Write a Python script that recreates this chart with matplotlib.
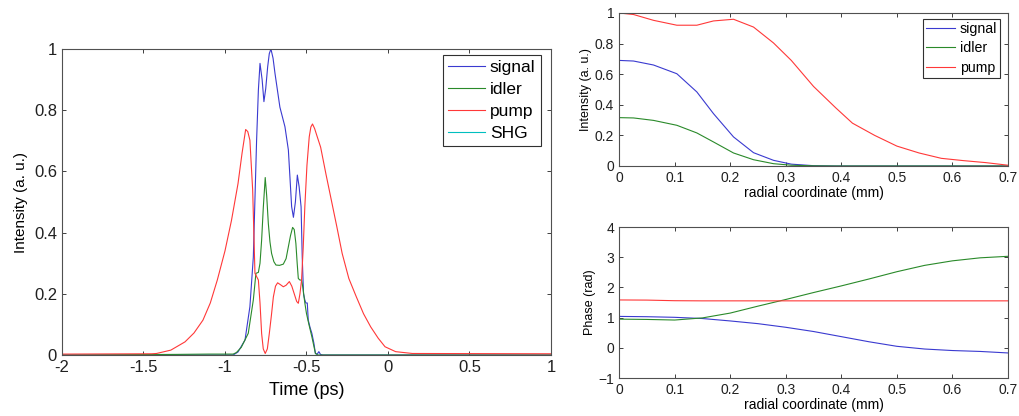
import numpy as np
import matplotlib
matplotlib.use("Agg")
import matplotlib.pyplot as plt

plt.rcParams["font.family"] = ["Liberation Sans", "DejaVu Sans"]

# ---------------- left panel: temporal profiles ----------------
t_signal = [-2.0, -0.95, -0.92, -0.877, -0.847, -0.826, -0.806, -0.795, -0.785, -0.772,
            -0.761, -0.75, -0.738, -0.728, -0.718, -0.705, -0.693, -0.663, -0.632, -0.611,
            -0.591, -0.58, -0.568, -0.556, -0.545, -0.533, -0.526, -0.518, -0.51, -0.504,
            -0.495, -0.489, -0.478, -0.467, -0.455, -0.445, -0.434, -0.424, -0.414, -0.4, 1.0]
signal = [0, 0, 0.01, 0.049, 0.158, 0.32, 0.70, 0.866, 0.953, 0.9,
          0.828, 0.87, 0.942, 0.985, 1.0, 0.97, 0.92, 0.81, 0.746, 0.67,
          0.485, 0.45, 0.5, 0.588, 0.55, 0.484, 0.32, 0.2, 0.18, 0.17,
          0.17, 0.114, 0.09, 0.071, 0.04, 0.005, 0.003, 0.011, 0.002, 0, 0]

t_idler = [-2.0, -1.3, -1.1, -0.95, -0.93, -0.9, -0.857, -0.826, -0.81, -0.795,
           -0.785, -0.775, -0.765, -0.753, -0.744, -0.734, -0.724, -0.714, -0.7, -0.687,
           -0.665, -0.642, -0.625, -0.611, -0.598, -0.585, -0.575, -0.565, -0.557, -0.55,
           -0.54, -0.53, -0.522, -0.51, -0.5, -0.485, -0.467, -0.455, -0.445, -0.43, 1.0]
idler = [0, 0.002, 0.003, 0.003, 0.008, 0.025, 0.071, 0.18, 0.267, 0.27,
         0.3, 0.376, 0.48, 0.58, 0.52, 0.43, 0.37, 0.332, 0.305, 0.294,
         0.293, 0.297, 0.315, 0.354, 0.39, 0.417, 0.41, 0.365, 0.3, 0.25,
         0.245, 0.245, 0.22, 0.17, 0.136, 0.1, 0.06, 0.03, 0.005, 0, 0]

t_pump = [-2.0, -1.45, -1.42, -1.332, -1.245, -1.19, -1.135, -1.09, -1.047, -1.0,
          -0.96, -0.92, -0.895, -0.873, -0.86, -0.847, -0.83, -0.816, -0.795, -0.785,
          -0.775, -0.765, -0.753, -0.74, -0.728, -0.715, -0.703, -0.69, -0.677, -0.66,
          -0.642, -0.625, -0.605, -0.59, -0.575, -0.56, -0.55, -0.54, -0.53, -0.52,
          -0.51, -0.497, -0.483, -0.473, -0.463, -0.45, -0.435, -0.413, -0.38, -0.347,
          -0.314, -0.281, -0.24, -0.194, -0.15, -0.106, -0.06, -0.018, 0.047, 0.15, 1.0]
pump = [0.003, 0.004, 0.005, 0.016, 0.043, 0.072, 0.114, 0.17, 0.245, 0.34,
        0.44, 0.56, 0.66, 0.737, 0.73, 0.702, 0.539, 0.267, 0.245, 0.17,
        0.07, 0.02, 0.005, 0.02, 0.07, 0.13, 0.19, 0.225, 0.236, 0.23,
        0.223, 0.228, 0.24, 0.225, 0.2, 0.175, 0.169, 0.2, 0.245, 0.35,
        0.485, 0.62, 0.713, 0.745, 0.755, 0.74, 0.715, 0.679, 0.59, 0.505,
        0.42, 0.332, 0.25, 0.19, 0.135, 0.092, 0.055, 0.027, 0.011, 0.005, 0.004]

t_shg = [-2.0, 1.0]
shg = [0.0, 0.0]

# ---------------- right panels: radial profiles ----------------
r_int = [0, 0.026, 0.062, 0.104, 0.14, 0.17, 0.206, 0.242, 0.278, 0.31,
         0.35, 0.39, 0.42, 0.46, 0.5, 0.54, 0.58, 0.62, 0.66, 0.7]
pump_r = [1.0, 0.99, 0.952, 0.92, 0.92, 0.948, 0.959, 0.908, 0.804, 0.69,
          0.52, 0.38, 0.28, 0.2, 0.13, 0.085, 0.05, 0.035, 0.022, 0.005]
signal_r = [0.69, 0.686, 0.66, 0.603, 0.484, 0.342, 0.19, 0.087, 0.037, 0.012,
            0.002, 0, 0, 0, 0, 0, 0, 0, 0, 0]
idler_r = [0.316, 0.314, 0.298, 0.266, 0.216, 0.157, 0.085, 0.041, 0.015, 0.005,
           0.001, 0, 0, 0, 0, 0, 0, 0, 0, 0]

r_ph = [0, 0.05, 0.1, 0.15, 0.2, 0.25, 0.3, 0.35, 0.4, 0.45, 0.5, 0.55, 0.6, 0.65, 0.7]
phase_signal = [1.04, 1.03, 1.01, 0.97, 0.89, 0.8, 0.68, 0.54, 0.37, 0.2, 0.05, -0.04, -0.09, -0.12, -0.17]
phase_idler = [0.95, 0.94, 0.92, 0.99, 1.15, 1.38, 1.6, 1.83, 2.05, 2.28, 2.52, 2.73, 2.88, 2.98, 3.03]
phase_pump = [1.585, 1.58, 1.56, 1.555, 1.555, 1.555, 1.555, 1.555, 1.555, 1.555, 1.555, 1.555, 1.555, 1.555, 1.555]

c_blue = "#3a3ad0"
c_green = "#2a8a2a"
c_red = "#ff3838"
c_cyan = "#00bfbf"
lw = 0.8


def style(ax, fs):
    ax.tick_params(direction="in", top=True, right=True, labelsize=fs,
                   length=3, width=0.6, colors="#202020")
    for s in ax.spines.values():
        s.set_color("#505050")
        s.set_linewidth(0.8)


def add_legend(ax, x, y, fs, hl, ls, bp):
    leg = ax.legend(loc="upper left", bbox_to_anchor=(x, y), borderaxespad=0,
                    fontsize=fs, handlelength=hl, handletextpad=0.3,
                    borderpad=bp, labelspacing=ls, fancybox=False, framealpha=1)
    leg.get_frame().set_edgecolor("#303030")
    leg.get_frame().set_linewidth(0.8)


fig = plt.figure(figsize=(10.19, 4.16), dpi=100)

xt = [-2, -1.5, -1, -0.5, 0, 0.5, 1]
yt = [0, 0.2, 0.4, 0.6, 0.8, 1]
rt = [0, 0.1, 0.2, 0.3, 0.4, 0.5, 0.6, 0.7]

# left
ax1 = fig.add_axes([0.0608, 0.1466, 0.4799, 0.7356])
ax1.plot(t_signal, signal, color=c_blue, lw=lw, label="signal")
ax1.plot(t_idler, idler, color=c_green, lw=lw, label="idler")
ax1.plot(t_pump, pump, color=c_red, lw=lw, label="pump")
ax1.plot(t_shg, shg, color=c_cyan, lw=lw, label="SHG")
ax1.set_xlim(-2, 1)
ax1.set_ylim(0, 1)
ax1.set_xticks(xt)
ax1.set_xticklabels(["%g" % v for v in xt])
ax1.set_yticks(yt)
ax1.set_yticklabels(["%g" % v for v in yt])
ax1.set_xlabel("Time (ps)", fontsize=13, labelpad=5)
ax1.set_ylabel("Intensity (a. u.)", fontsize=11, labelpad=4)
style(ax1, 12)
add_legend(ax1, 0.779, 0.98, 12.5, 2.1, 0.38, 0.3)

# top right
ax2 = fig.add_axes([0.6075, 0.601, 0.3817, 0.3678])
ax2.plot(r_int, signal_r, color=c_blue, lw=lw, label="signal")
ax2.plot(r_int, idler_r, color=c_green, lw=lw, label="idler")
ax2.plot(r_int, pump_r, color=c_red, lw=lw, label="pump")
ax2.set_xlim(0, 0.7)
ax2.set_ylim(0, 1)
ax2.set_xticks(rt)
ax2.set_xticklabels(["%g" % v for v in rt])
ax2.set_yticks(yt)
ax2.set_yticklabels(["%g" % v for v in yt])
ax2.set_xlabel("radial coordinate (mm)", fontsize=10, labelpad=1)
ax2.set_ylabel("Intensity (a. u.)", fontsize=9, labelpad=2)
style(ax2, 10)
add_legend(ax2, 0.781, 0.961, 10.2, 2.1, 0.4, 0.2)

# bottom right
ax3 = fig.add_axes([0.6075, 0.0913, 0.3817, 0.363])
ax3.plot(r_ph, phase_signal, color=c_blue, lw=lw)
ax3.plot(r_ph, phase_idler, color=c_green, lw=lw)
ax3.plot(r_ph, phase_pump, color=c_red, lw=lw)
ax3.set_xlim(0, 0.7)
ax3.set_ylim(-1, 4)
ax3.set_xticks(rt)
ax3.set_xticklabels(["%g" % v for v in rt])
ax3.set_yticks([-1, 0, 1, 2, 3, 4])
ax3.set_xlabel("radial coordinate (mm)", fontsize=10, labelpad=1)
ax3.set_ylabel("Phase (rad)", fontsize=9, labelpad=2)
style(ax3, 10)

fig.savefig("out.png", dpi=100)
